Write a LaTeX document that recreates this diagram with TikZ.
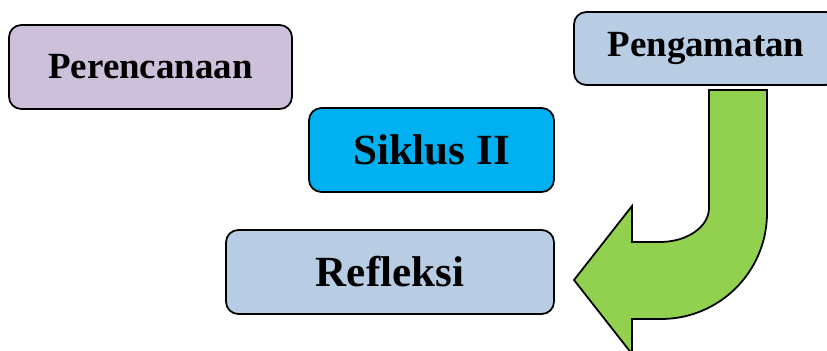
\documentclass[tikz,border=0pt]{standalone}
\usepackage{fontspec}
\setmainfont{Liberation Serif}
\usepackage{tikz}

\definecolor{ungu}{HTML}{CCC0DA}
\definecolor{birumuda}{HTML}{B8CCE4}
\definecolor{biru}{HTML}{00B0F0}
\definecolor{hijau}{HTML}{92D050}

\tikzset{
    tahap/.style={draw, line width=1pt, rounded corners=7pt, inner sep=0pt, font=\bfseries},
}

\begin{document}
\begin{tikzpicture}[x=0.02cm, y=-0.02cm]
        \useasboundingbox (0,0) rectangle (827,351);

        \node[tahap, fill=ungu, minimum width=283*0.02cm, minimum height=84*0.02cm,
              font=\bfseries\fontsize{21}{25}\selectfont] (rencana) at (150.5,67) {Perencanaan};
        \node[tahap, fill=birumuda, minimum width=264*0.02cm, minimum height=73*0.02cm,
              font=\bfseries\fontsize{21}{25}\selectfont] (amati) at (706,48.5) {Pengamatan};
        \node[tahap, fill=biru, minimum width=245*0.02cm, minimum height=84*0.02cm,
              font=\bfseries\fontsize{24.5}{29}\selectfont] (siklus) at (431.5,150) {Siklus II};
        \node[tahap, fill=birumuda, minimum width=328*0.02cm, minimum height=84*0.02cm,
              font=\bfseries\fontsize{24.5}{29}\selectfont] (refleksi) at (390,272) {Refleksi};

        % panah lengkung dari Pengamatan ke Refleksi
        \draw[line width=1pt, fill=hijau, line join=miter]
            (709,90) -- (767,90) -- (767,213)
            arc[start angle=0, end angle=90, radius=106]
            -- (632,319) -- (632,354) -- (574,280) -- (632,206) -- (632,242) -- (660,242)
            arc[start angle=90, end angle=0, x radius=49, y radius=34]
            -- cycle;
    \end{tikzpicture}
\end{document}
